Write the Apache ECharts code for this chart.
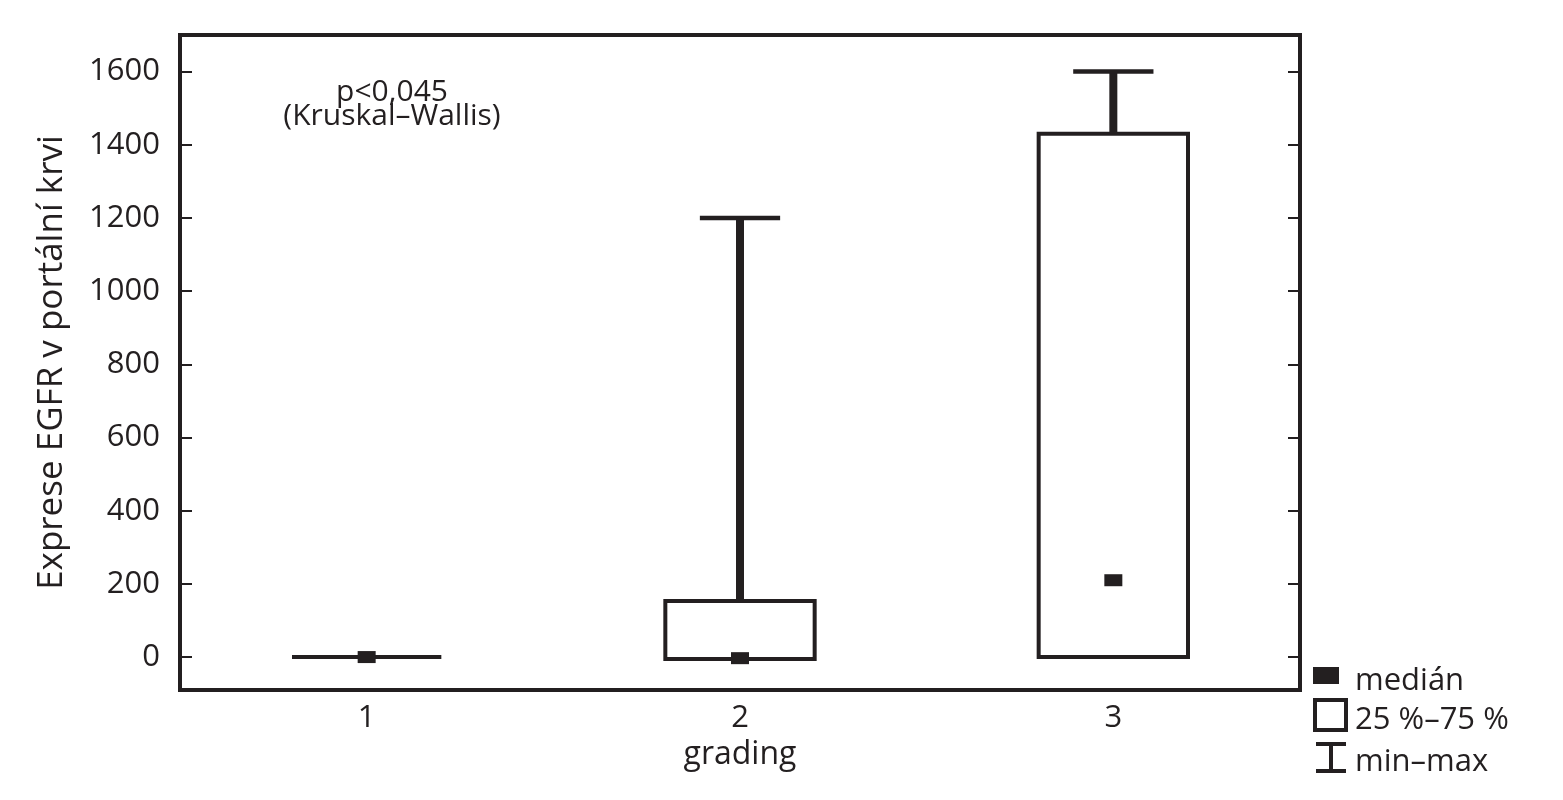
<!DOCTYPE html>
<html lang="cs">
<head>
    <meta charset="UTF-8">
    <title>EGFR grading</title>
    <script src="https://cdn.jsdelivr.net/npm/echarts@6/dist/echarts.min.js"></script>
    <style>
        html, body { margin: 0; padding: 0; background: #fff; }
        #main { width: 1563px; height: 800px; }
    </style>
</head>
<body>
    <div id="main"></div>
    <script type="text/javascript">
        // data
        var categories = ['1', '2', '3'];
        var minValues = [0, -5, 0];
        var q1Values = [0, -5, 0];
        var medianValues = [0, -3, 210];
        var q3Values = [0, 153, 1430];
        var maxValues = [0, 1200, 1600];
        var yTicks = [0, 200, 400, 600, 800, 1000, 1200, 1400, 1600];

        var ink = '#231f20';
        var font = '"Open Sans", "Noto Sans", sans-serif';

        var rows = categories.map(function (c, i) {
            return [i, minValues[i], q1Values[i], medianValues[i], q3Values[i], maxValues[i]];
        });

        function renderBox(params, api) {
            var i = api.value(0);
            var band = api.size([1, 0])[0];
            var boxW = band * 0.4;
            var capW = band * 0.215;
            var pMin = api.coord([i, api.value(1)]);
            var pQ1 = api.coord([i, api.value(2)]);
            var pMed = api.coord([i, api.value(3)]);
            var pQ3 = api.coord([i, api.value(4)]);
            var pMax = api.coord([i, api.value(5)]);
            var x = pQ1[0];
            var children = [];
            // box 25-75 %
            if (pQ1[1] - pQ3[1] > 1) {
                children.push({
                    type: 'rect',
                    shape: { x: x - boxW / 2, y: pQ3[1], width: boxW, height: pQ1[1] - pQ3[1] },
                    style: { fill: '#fff', stroke: ink, lineWidth: 4 }
                });
            } else {
                children.push({
                    type: 'line',
                    shape: { x1: x - boxW / 2, y1: pQ1[1], x2: x + boxW / 2, y2: pQ1[1] },
                    style: { stroke: ink, lineWidth: 4 }
                });
            }
            // upper whisker
            if (pQ3[1] - pMax[1] > 1) {
                children.push({
                    type: 'line',
                    shape: { x1: x, y1: pQ3[1], x2: x, y2: pMax[1] },
                    style: { stroke: ink, lineWidth: 8 }
                });
                children.push({
                    type: 'line',
                    shape: { x1: x - capW / 2, y1: pMax[1], x2: x + capW / 2, y2: pMax[1] },
                    style: { stroke: ink, lineWidth: 4.5 }
                });
            }
            // lower whisker
            if (pMin[1] - pQ1[1] > 1) {
                children.push({
                    type: 'line',
                    shape: { x1: x, y1: pQ1[1], x2: x, y2: pMin[1] },
                    style: { stroke: ink, lineWidth: 8 }
                });
                children.push({
                    type: 'line',
                    shape: { x1: x - capW / 2, y1: pMin[1], x2: x + capW / 2, y2: pMin[1] },
                    style: { stroke: ink, lineWidth: 4.5 }
                });
            }
            // median
            children.push({
                type: 'rect',
                shape: { x: x - 9, y: pMed[1] - 6, width: 18, height: 12 },
                style: { fill: ink }
            });
            return { type: 'group', children: children };
        }

        var myChart = echarts.init(document.getElementById('main'));
        var option = {
            backgroundColor: '#fff',
            animation: false,
            grid: {
                left: 180, right: 263, top: 35, bottom: 110,
                show: true, borderColor: ink, borderWidth: 4, backgroundColor: 'transparent'
            },
            xAxis: {
                type: 'category',
                data: categories,
                name: 'grading',
                nameLocation: 'middle',
                nameGap: 47,
                nameTextStyle: { fontFamily: font, fontSize: 32, color: ink },
                axisLine: { show: false },
                axisTick: { show: false },
                axisLabel: { fontFamily: font, fontSize: 31, color: ink, margin: 13 },
                splitLine: { show: false }
            },
            yAxis: [
                {
                    type: 'value',
                    min: -90,
                    max: 1700,
                    name: 'Exprese EGFR v portální krvi',
                    nameLocation: 'middle',
                    nameGap: 110,
                    nameTextStyle: { fontFamily: font, fontSize: 35, color: ink },
                    axisLine: { show: false },
                    axisTick: { show: true, inside: true, length: 12, customValues: yTicks,
                        lineStyle: { color: ink, width: 2 } },
                    axisLabel: {
                        fontFamily: font, fontSize: 31, color: ink, margin: 20, customValues: yTicks,
                        formatter: function (v) { return String(v); }
                    },
                    splitLine: { show: false }
                },
                {
                    type: 'value',
                    position: 'right',
                    min: -90,
                    max: 1700,
                    axisLine: { show: false },
                    axisTick: { show: true, inside: true, length: 12, customValues: yTicks,
                        lineStyle: { color: ink, width: 2 } },
                    axisLabel: { show: false },
                    splitLine: { show: false }
                }
            ],
            series: [{
                type: 'custom',
                renderItem: renderBox,
                encode: { x: 0, y: [1, 2, 3, 4, 5] },
                data: rows,
                z: 10
            }],
            graphic: [
                {
                    type: 'text', x: 392, y: 92,
                    style: { text: 'p<0,045', fontFamily: font, fontSize: 30, fill: ink,
                        align: 'center', verticalAlign: 'middle' }
                },
                {
                    type: 'text', x: 392, y: 116,
                    style: { text: '(Kruskal–Wallis)', fontFamily: font, fontSize: 30, fill: ink,
                        align: 'center', verticalAlign: 'middle' }
                },
                // legend
                { type: 'rect', shape: { x: 1313, y: 667, width: 26, height: 17 }, style: { fill: ink } },
                {
                    type: 'text', x: 1355, y: 681,
                    style: { text: 'medián', fontFamily: font, fontSize: 31, fill: ink, verticalAlign: 'middle' }
                },
                { type: 'rect', shape: { x: 1315, y: 700, width: 31, height: 30 }, style: { fill: '#fff', stroke: ink, lineWidth: 4 } },
                {
                    type: 'text', x: 1355, y: 720,
                    style: { text: '25 %–75 %', fontFamily: font, fontSize: 31, fill: ink, verticalAlign: 'middle' }
                },
                { type: 'line', shape: { x1: 1316, y1: 744, x2: 1346, y2: 744 }, style: { stroke: ink, lineWidth: 4 } },
                { type: 'line', shape: { x1: 1331, y1: 744, x2: 1331, y2: 771 }, style: { stroke: ink, lineWidth: 4 } },
                { type: 'line', shape: { x1: 1316, y1: 771, x2: 1346, y2: 771 }, style: { stroke: ink, lineWidth: 4 } },
                {
                    type: 'text', x: 1355, y: 762,
                    style: { text: 'min–max', fontFamily: font, fontSize: 31, fill: ink, verticalAlign: 'middle' }
                }
            ]
        };
        myChart.setOption(option);
    </script>
</body>
</html>
